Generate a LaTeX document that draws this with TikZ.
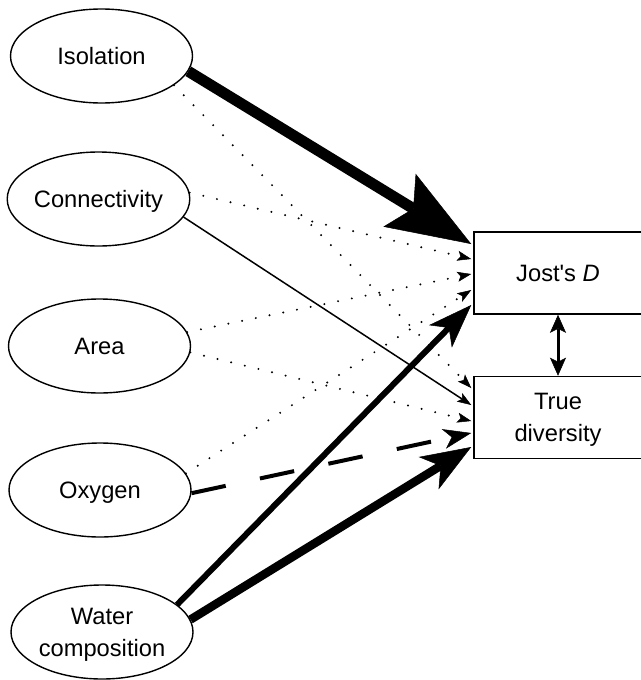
\documentclass[tikz,border=0pt]{standalone}
\usepackage{fontspec}
\setmainfont{Liberation Sans}[Ligatures=TeXOff]
\usetikzlibrary{arrows.meta,shapes.geometric}

\begin{document}
\begin{tikzpicture}
\tikzset{factor/.style={draw=black,ellipse,line width=1.4pt,minimum width=182pt,minimum height=94pt,inner sep=0pt,text depth=0pt,align=center,font=\fontsize{23.7}{32}\selectfont}}
\tikzset{response/.style={draw=black,rectangle,line width=1.5pt,minimum width=168pt,minimum height=82pt,inner sep=0pt,text depth=0pt,align=center,font=\fontsize{23.7}{32}\selectfont}}
\tikzset{weak/.style={draw=black,line width=2.2pt,line cap=round,dash pattern=on 0pt off 14pt,-{Stealth[length=14pt,width=10pt,inset=3pt,line width=0.5pt]}}}
\tikzset{strong/.style={draw=black,line width=1.5pt,-{Stealth[length=14pt,width=10pt,inset=3pt,line width=0.5pt]}}}
\tikzset{dashedlink/.style={draw=black,line width=4pt,dash pattern=on 35pt off 35pt,-{Stealth[length=28pt,width=20pt,inset=8pt,line width=0.5pt]}}}
\tikzset{heavy/.style={draw=black,line width=11pt,-{Stealth[length=84pt,width=62pt,inset=16pt,line width=0.5pt]}}}
\tikzset{thickA/.style={draw=black,line width=6pt,-{Stealth[length=44pt,width=32pt,inset=12pt,line width=0.5pt]}}}
\tikzset{thickB/.style={draw=black,line width=8.5pt,-{Stealth[length=50pt,width=38pt,inset=14pt,line width=0.5pt]}}}
\tikzset{link/.style={draw=black,line width=3pt,{Stealth[length=18pt,width=16pt,inset=4pt,line width=0.5pt]}-{Stealth[length=18pt,width=16pt,inset=4pt,line width=0.5pt]}}}

\begin{scope}[x={(1pt,0pt)},y={(0pt,-1pt)}]
\useasboundingbox (0,0) rectangle (640,680);

\node[factor] (iso) at (101.5,56) {Isolation};
\node[factor] (conn) at (98.5,199) {Connectivity};
\node[factor] (area) at (99.5,346) {Area};
\node[factor] (oxy) at (100,490) {Oxygen};
\node[factor] (water) at (102,632) {Water\\composition};

\node[response] (jost) at (558,273) {Jost's \textit{D}};
\node[response] (truediv) at (558,417.5) {True\\diversity};

\path[heavy] (iso.-10) -- ([xshift=-2pt,yshift=29pt]jost.west);
\path[weak] (iso.-22) -- ([xshift=-2pt,yshift=29.5pt]truediv.west);
\path[weak] (conn.4) -- ([xshift=-2pt,yshift=14pt]jost.west);
\path[strong] (conn.-12) -- ([xshift=-2pt,yshift=12.5pt]truediv.west);
\path[weak] (area.9) -- ([xshift=-2pt,yshift=-1pt]jost.west);
\path[weak] (area.-4) -- ([xshift=-2pt,yshift=-3.5pt]truediv.west);
\path[weak] (oxy.11) -- ([xshift=-2pt,yshift=-17pt]jost.west);
\path[dashedlink] (oxy.-2) -- ([xshift=-2pt,yshift=-15.5pt]truediv.west);
\path[thickA] (water.20) -- ([xshift=-2pt,yshift=-32pt]jost.west);
\path[thickB] (water.8) -- ([xshift=-2pt,yshift=-29.5pt]truediv.west);

\path[link] (jost.south) -- (truediv.north);

\end{scope}
\end{tikzpicture}
\end{document}
